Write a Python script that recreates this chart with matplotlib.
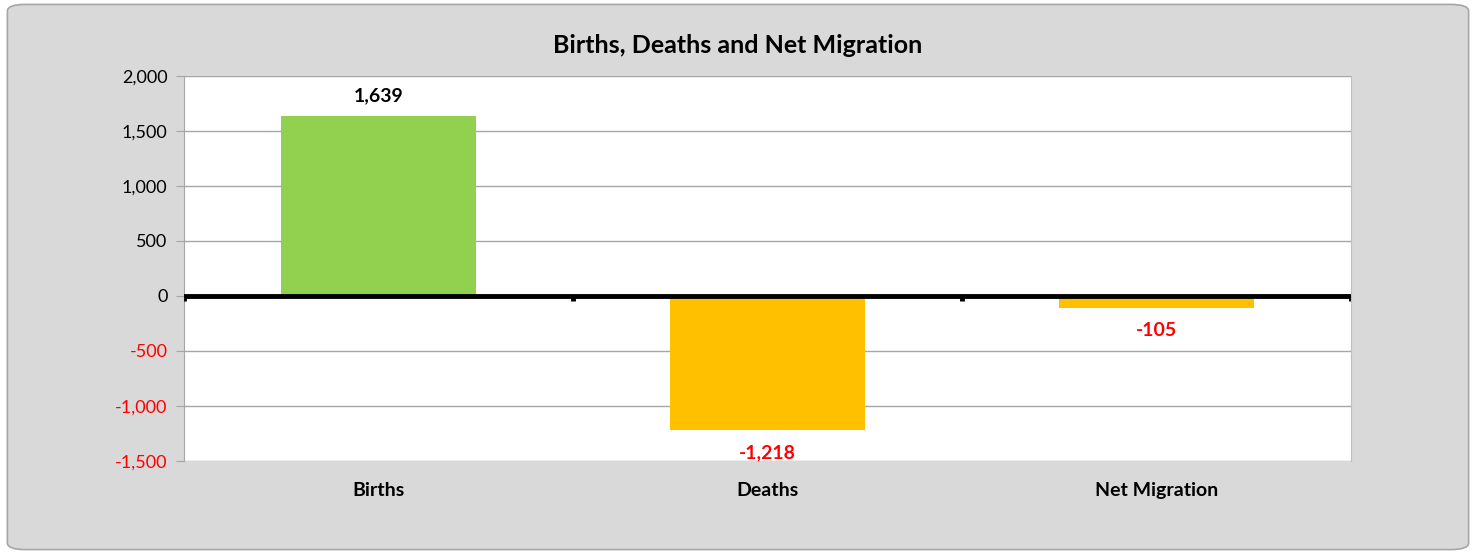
import matplotlib
matplotlib.use('Agg')
import matplotlib.pyplot as plt
from matplotlib.patches import FancyBboxPatch
from matplotlib.ticker import FuncFormatter

categories = ['Births', 'Deaths', 'Net Migration']
values = [1639, -1218, -105]
bar_colors = ['#92d050', '#ffc000', '#ffc000']
y_ticks = [-1500, -1000, -500, 0, 500, 1000, 1500, 2000]

plt.rcParams['font.family'] = ['Lato', 'DejaVu Sans']

fig = plt.figure(figsize=(14.76, 5.54), dpi=100)
fig.patch.set_facecolor('white')

# rounded grey frame behind the chart
frame = FancyBboxPatch((0.005, 0.008), 0.99, 0.984,
                       boxstyle='round,pad=0,rounding_size=0.012',
                       transform=fig.transFigure, facecolor='#d9d9d9',
                       edgecolor='#a6a6a6', linewidth=1.2, zorder=-10)
fig.patches.append(frame)

ax = fig.add_axes([0.1247, 0.1679, 0.7907, 0.6949])
ax.set_facecolor('white')

x = list(range(len(categories)))
ax.bar(x, values, width=0.5, color=bar_colors, zorder=2)

ax.set_xlim(-0.5, len(categories) - 0.5)
ax.set_ylim(-1500, 2000)
ax.set_yticks(y_ticks)
ax.yaxis.set_major_formatter(FuncFormatter(lambda v, p: '{:,.0f}'.format(v)))
for lbl, v in zip(ax.get_yticklabels(), y_ticks):
    lbl.set_color('red' if v < 0 else 'black')
ax.tick_params(axis='y', labelsize=13, length=6, color='#a6a6a6', pad=6)
ax.grid(axis='y', color='#a6a6a6', linewidth=1, zorder=0)

ax.set_xticks(x)
ax.set_xticklabels(categories, fontsize=14, fontweight='bold')
ax.tick_params(axis='x', length=0, pad=15)

for s in ['top', 'bottom']:
    ax.spines[s].set_visible(False)
ax.spines['left'].set_color('#a6a6a6')
ax.spines['right'].set_color('#bfbfbf')

# thick zero line with category separators
ax.axhline(0, color='black', linewidth=3.5, zorder=3)
for b in [-0.5, 0.5, 1.5, 2.5]:
    ax.plot([b, b], [0, -45], color='black', linewidth=3.5, zorder=3,
            solid_capstyle='butt')

for xi, v in zip(x, values):
    if v >= 0:
        ax.text(xi, v + 100, '{:,}'.format(v), ha='center', va='bottom',
                fontsize=14, fontweight='bold', color='black')
    else:
        ax.text(xi, v - 130, '{:,}'.format(v), ha='center', va='top',
                fontsize=14, fontweight='bold', color='red')

fig.text(0.5, 0.917, 'Births, Deaths and Net Migration', ha='center',
         va='center', fontsize=18, fontweight='bold')

fig.savefig('out.png', dpi=100)
